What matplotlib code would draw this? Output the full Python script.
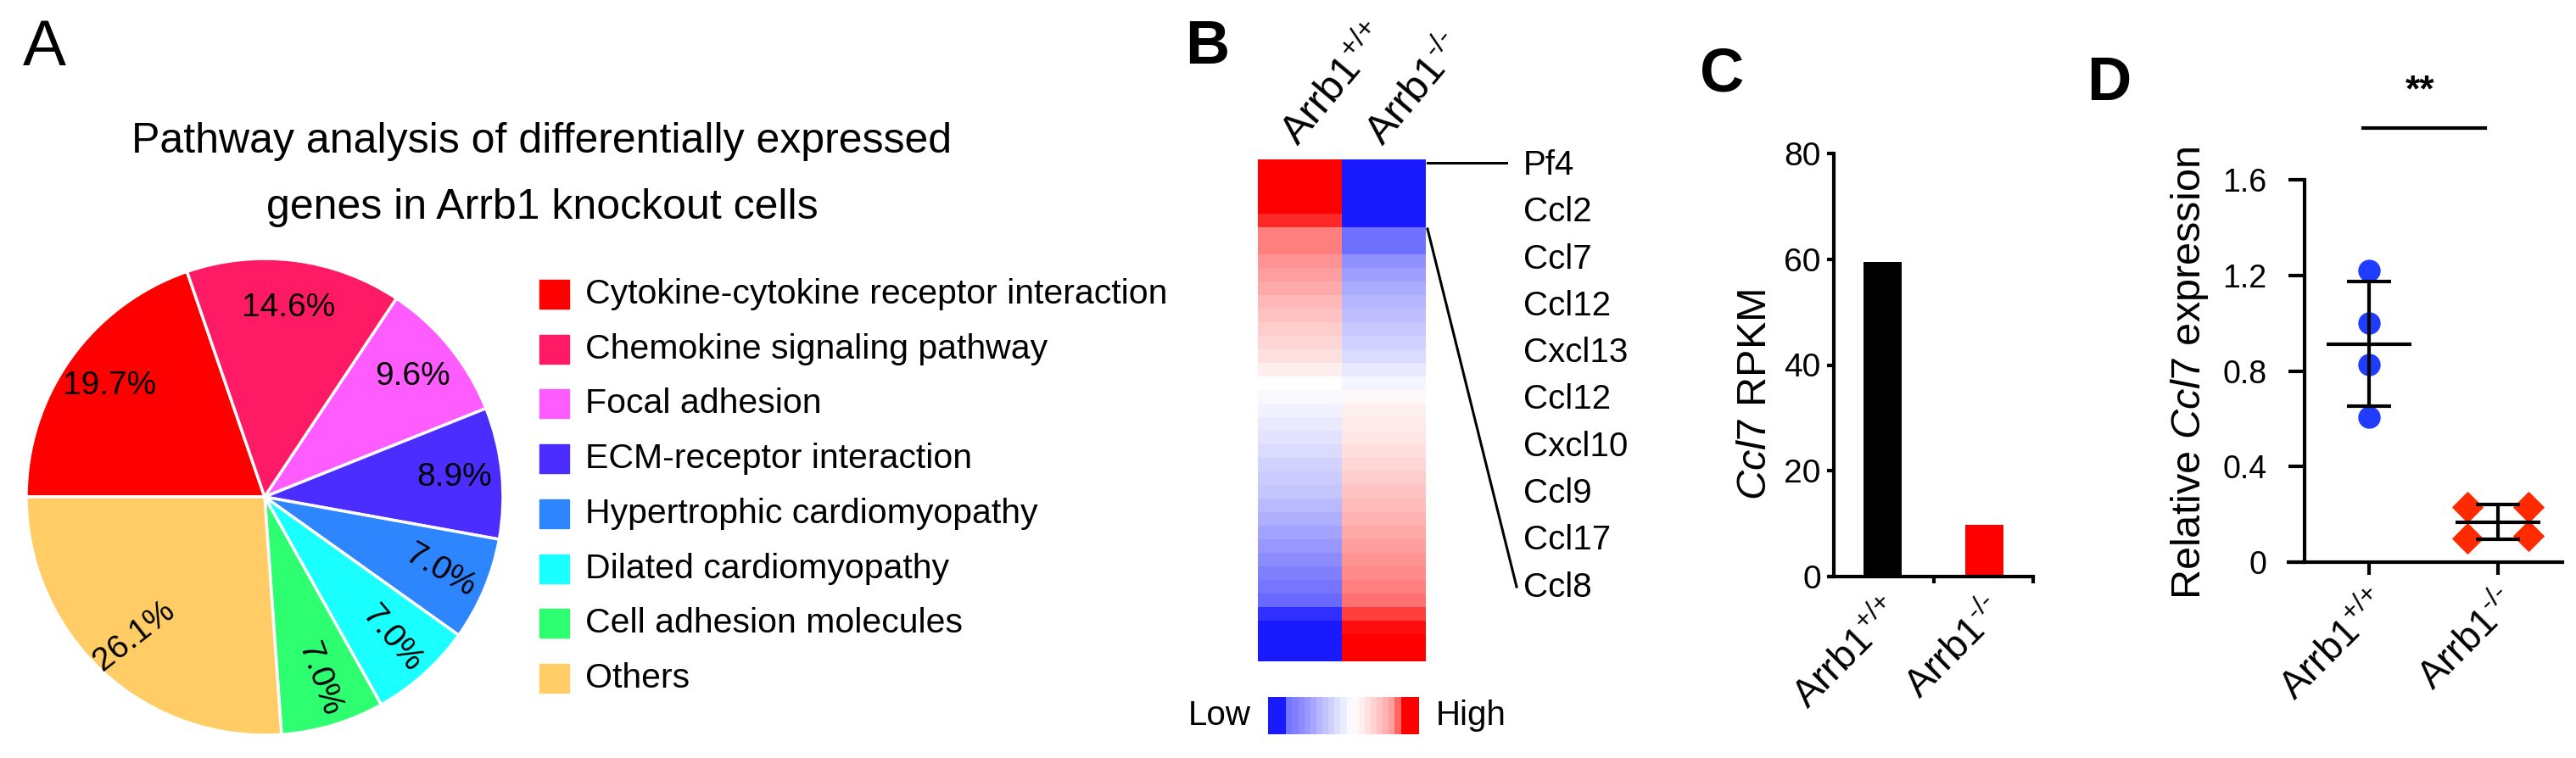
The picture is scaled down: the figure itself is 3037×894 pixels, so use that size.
import numpy as np
import matplotlib
matplotlib.use('Agg')
import matplotlib.pyplot as plt
from matplotlib.colors import LinearSegmentedColormap
from matplotlib.patches import Rectangle
from matplotlib.lines import Line2D

plt.rcParams['font.family'] = ['Liberation Sans', 'DejaVu Sans']
plt.rcParams['mathtext.fontset'] = 'custom'
plt.rcParams['mathtext.rm'] = 'Liberation Sans'
plt.rcParams['mathtext.it'] = 'Liberation Sans:italic'
plt.rcParams['mathtext.bf'] = 'Liberation Sans:bold'

# ---- data ----
pathways = ['Cytokine-cytokine receptor interaction', 'Chemokine signaling pathway',
            'Focal adhesion', 'ECM-receptor interaction', 'Hypertrophic cardiomyopathy',
            'Dilated cardiomyopathy', 'Cell adhesion molecules', 'Others']
pathway_pct = [19.7, 14.6, 9.6, 8.9, 7.0, 7.0, 7.0, 26.1]
pie_colors = ['#ff0000', '#ff1a66', '#ff5cff', '#4b2eff', '#2e86ff', '#1affff', '#2eff70', '#ffcc66']

# heatmap row z-scores (top to bottom), wild type and knockout columns
wt_z = [1.0, 1.0, 1.0, 1.0, 0.84, 0.5, 0.5, 0.42, 0.38, 0.33, 0.28, 0.24, 0.2, 0.16, 0.12, 0.07,
        0.0, -0.03, -0.06, -0.09, -0.12, -0.15, -0.19, -0.22, -0.25, -0.3, -0.35, -0.4, -0.45,
        -0.5, -0.55, -0.6, -0.65, -0.9, -1.0, -1.0, -1.0]
ko_z = [-1.0, -1.0, -1.0, -1.0, -1.0, -0.62, -0.62, -0.48, -0.42, -0.36, -0.32, -0.28, -0.24,
        -0.2, -0.15, -0.1, -0.04, 0.03, 0.06, 0.08, 0.1, 0.13, 0.16, 0.2, 0.23, 0.27, 0.3, 0.34,
        0.38, 0.42, 0.46, 0.5, 0.55, 0.75, 0.95, 1.0, 1.0]
genes = ['Pf4', 'Ccl2', 'Ccl7', 'Ccl12', 'Cxcl13', 'Ccl12', 'Cxcl10', 'Ccl9', 'Ccl17', 'Ccl8']
cbar_steps = [-1, -1, -1, -0.6, -0.55, -0.5, -0.44, -0.38, -0.32, -0.26, -0.2, -0.14, -0.08,
              -0.03, 0.02, 0.07, 0.12, 0.17, 0.23, 0.3, 0.38, 0.6, 1, 1, 1]

groups = [r'Arrb1$^{{+}/{+}}$', r'Arrb1$^{‐/‐}$']
rpkm = [59.5, 9.8]
bar_colors = ['#000000', '#ff0000']

wt_expr = [1.22, 1.0, 0.825, 0.605]
wt_x = [0, 0, 0, 0]
ko_expr = [0.23, 0.23, 0.10, 0.11]
ko_x = [0.76, 1.24, 0.76, 1.24]

# ---- figure ----
W, H = 3037, 894
fig = plt.figure(figsize=(W / 100, H / 100), dpi=100)


def box(l, t, r, b):
    return [l / W, 1 - b / H, (r - l) / W, (b - t) / H]


def fx(x):
    return x / W


def fy(y):
    return 1 - y / H


# panel letters
fig.text(fx(27), fy(77), 'A', fontsize=55, va='baseline')
fig.text(fx(1397), fy(75), 'B', fontsize=52, fontweight='bold', va='baseline')
fig.text(fx(2004), fy(108), 'C', fontsize=52, fontweight='bold', va='baseline')
fig.text(fx(2460), fy(118), 'D', fontsize=52, fontweight='bold', va='baseline')

# ---- A: pie ----
fig.text(fx(639), fy(180), 'Pathway analysis of differentially expressed', fontsize=36,
         ha='center', va='baseline')
fig.text(fx(639), fy(258), 'genes in Arrb1 knockout cells', fontsize=36,
         ha='center', va='baseline')

ax_pie = fig.add_axes(box(31, 305, 593, 867))
wedges, texts, autotexts = ax_pie.pie(
    pathway_pct, colors=pie_colors, startangle=180, counterclock=False,
    autopct='%.1f%%', pctdistance=0.8,
    wedgeprops=dict(edgecolor='white', linewidth=2.5),
    textprops=dict(fontsize=28, color='black'))
ax_pie.set_xlim(-1, 1)
ax_pie.set_ylim(-1, 1)
for t, r in zip(autotexts, [0, 0, 0, 0, -30, -50, -70, 38]):
    t.set_rotation(r)

for i, (name, c) in enumerate(zip(pathways, pie_colors)):
    yc = 347 + 64.7 * i
    fig.patches.append(Rectangle((fx(636), fy(yc + 17)), 35 / W, 34 / H, color=c,
                                 transform=fig.transFigure, figure=fig))
    fig.text(fx(690), fy(yc), name, fontsize=29.5, va='center')

# ---- B: heatmap ----
cmap = LinearSegmentedColormap.from_list('bwr2', ['#1a1aff', '#ffffff', '#ff0000'])
ax_hm = fig.add_axes(box(1483, 188, 1681, 780))
ax_hm.imshow(np.column_stack([wt_z, ko_z]), cmap=cmap, vmin=-1, vmax=1,
             aspect='auto', interpolation='nearest')
ax_hm.axis('off')

for i, g in enumerate(groups):
    fig.text(fx(1530 + 100 * i), fy(174), g, fontsize=35, rotation=50,
             rotation_mode='anchor', ha='left', va='baseline')

for i, g in enumerate(genes):
    fig.text(fx(1796), fy(195 + 55.3 * i), g, fontsize=29, va='center')

fig.add_artist(Line2D([fx(1683), fx(1776)], [fy(192), fy(192)], color='black', lw=2.2))
fig.add_artist(Line2D([fx(1683), fx(1788)], [fy(270), fy(692)], color='black', lw=2.2))

ax_cb = fig.add_axes(box(1495, 822, 1673, 866))
ax_cb.imshow([cbar_steps], cmap=cmap, vmin=-1, vmax=1, aspect='auto', interpolation='nearest')
ax_cb.axis('off')
fig.text(fx(1475), fy(844), 'Low', fontsize=29, ha='right', va='center')
fig.text(fx(1693), fy(844), 'High', fontsize=29, ha='left', va='center')

# ---- C: bar chart ----
ax_c = fig.add_axes(box(2162, 181, 2397, 680))
ax_c.bar([0, 1], rpkm, width=0.375, color=bar_colors)
ax_c.set_xlim(-0.48, 1.475)
ax_c.set_ylim(0, 80)
ax_c.set_yticks([0, 20, 40, 60, 80])
ax_c.set_xticks([0, 1])
ax_c.set_xticklabels(groups, rotation=45, ha='right', rotation_mode='anchor', fontsize=33)
ax_c.set_xticks([0.5, 1.475], minor=True)
ax_c.tick_params(axis='x', which='major', length=0, pad=14)
ax_c.tick_params(axis='x', which='minor', length=6, width=3)
ax_c.tick_params(axis='y', length=6, width=3, labelsize=28, pad=5)
for s in ['top', 'right']:
    ax_c.spines[s].set_visible(False)
for s in ['left', 'bottom']:
    ax_c.spines[s].set_linewidth(3)
ax_c.spines['bottom'].set_bounds(-0.52, 1.475)
fig.text(fx(2070), fy(465), r'$\it{Ccl7}$ RPKM', fontsize=35, rotation=90,
         ha='center', va='center')

# ---- D: dot plot ----
ax_d = fig.add_axes(box(2717, 212, 3021, 663))
ax_d.scatter(wt_x, wt_expr, s=18 ** 2, color='#1f3cff', marker='o', zorder=2)
ax_d.scatter(ko_x, ko_expr, s=18 ** 2, color='#ff2a00', marker='D', zorder=2)
means = [np.mean(wt_expr), np.mean(ko_expr)]
sds = [np.std(wt_expr, ddof=1), np.std(ko_expr, ddof=1)]
ax_d.errorbar([0, 1], means, yerr=sds, fmt='none', ecolor='black', elinewidth=3,
              capsize=19, capthick=3, zorder=3)
ax_d.hlines(means, [-0.33, 0.67], [0.33, 1.33], color='black', lw=3, zorder=3)
ax_d.set_xlim(-0.5, 1.5)
ax_d.set_ylim(0, 1.6)
ax_d.set_yticks([0, 0.4, 0.8, 1.2, 1.6])
ax_d.set_yticklabels(['0', '0.4', '0.8', '1.2', '1.6'])
ax_d.set_xticks([0, 1])
ax_d.set_xticklabels(groups, rotation=45, ha='right', rotation_mode='anchor', fontsize=33)
ax_d.tick_params(axis='x', length=11, width=3, pad=8)
ax_d.tick_params(axis='y', length=14, width=3, labelsize=27, pad=18)
for s in ['top', 'right']:
    ax_d.spines[s].set_visible(False)
for s in ['left', 'bottom']:
    ax_d.spines[s].set_linewidth(3)
ax_d.spines['bottom'].set_bounds(-0.625, 1.5)
ax_d.plot([-0.046, 0.9], [1.817, 1.817], color='black', lw=3, clip_on=False)
ax_d.text(0.395, 1.97, '**', fontsize=32, fontweight='bold', ha='center', va='center')
fig.text(fx(2581), fy(440), r'Relative $\it{Ccl7}$ expression', fontsize=35, rotation=90,
         ha='center', va='center')

fig.savefig('out.png', dpi=100)
